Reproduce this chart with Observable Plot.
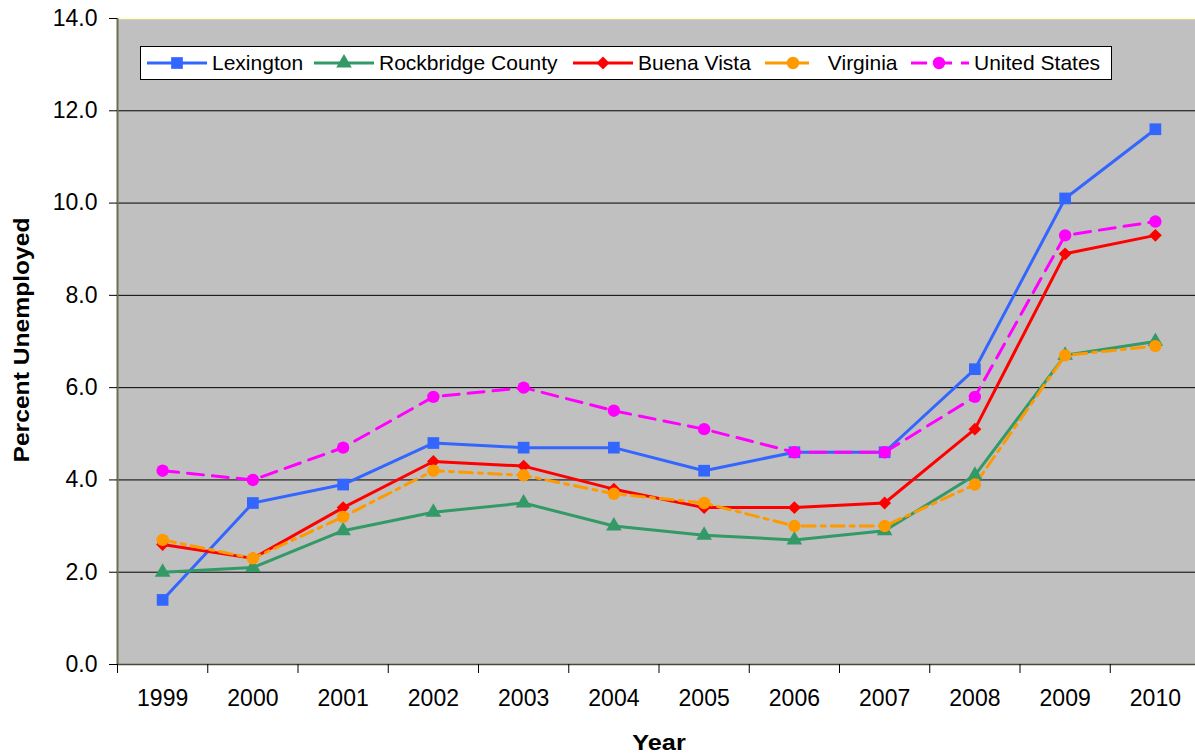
<!DOCTYPE html>
<html>
<head>
<meta charset="utf-8">
<script src="https://cdn.jsdelivr.net/npm/d3@7"></script>
<script src="https://cdn.jsdelivr.net/npm/@observablehq/plot@0.6"></script>
<style>
  html, body { margin: 0; padding: 0; background: #ffffff; }
  #wrap { position: relative; width: 1195px; height: 755px; overflow: hidden; font-family: Arial, "Liberation Sans", sans-serif; }
  #chart svg { position: absolute; left: 0; top: 0; }
  .ytitle { position: absolute; left: 22px; top: 340px; transform: translate(-50%, -50%) rotate(-90deg) scale(1.12, 1); font-weight: bold; font-size: 22px; white-space: nowrap; color: #000; }
  .xtitle { position: absolute; left: 659px; top: 743px; transform: translate(-50%, -50%) scale(1.15, 1); font-weight: bold; font-size: 22px; color: #000; }
  #legend { position: absolute; left: 140px; top: 46px; width: 970px; height: 32px; background: #fff; border: 1px solid #000; }
  .li { position: absolute; top: 0; height: 32px; }
  .li svg { position: absolute; top: 0; }
  .li span { position: absolute; top: 4px; font-size: 21px; white-space: pre; color: #000; }
</style>
</head>
<body>
<div id="wrap">
  <div id="chart"></div>
  <div class="ytitle">Percent Unemployed</div>
  <div class="xtitle">Year</div>
  <div id="legend"></div>
</div>
<script>
const years = [1999, 2000, 2001, 2002, 2003, 2004, 2005, 2006, 2007, 2008, 2009, 2010];
const lexington   = [1.4, 3.5, 3.9, 4.8, 4.7, 4.7, 4.2, 4.6, 4.6, 6.4, 10.1, 11.6];
const rockbridge  = [2.0, 2.1, 2.9, 3.3, 3.5, 3.0, 2.8, 2.7, 2.9, 4.1, 6.7, 7.0];
const buenaVista  = [2.6, 2.3, 3.4, 4.4, 4.3, 3.8, 3.4, 3.4, 3.5, 5.1, 8.9, 9.3];
const virginia    = [2.7, 2.3, 3.2, 4.2, 4.1, 3.7, 3.5, 3.0, 3.0, 3.9, 6.7, 6.9];
const unitedStates= [4.2, 4.0, 4.7, 5.8, 6.0, 5.5, 5.1, 4.6, 4.6, 5.8, 9.3, 9.6];
const seriesNames = ["Lexington", "Rockbridge County", "Buena Vista", "Virginia", "United States"];
const yTicks = [0, 2, 4, 6, 8, 10, 12, 14];

const seriesValues = [lexington, rockbridge, buenaVista, virginia, unitedStates];
const styles = [
  {color: "#3366ff", symbol: "square",   r: 6.6, dash: null},
  {color: "#339966", symbol: "triangle", r: 5.8, dash: null},
  {color: "#ff0000", symbol: "diamond2", r: 5.8, dash: null},
  {color: "#ff9900", symbol: "circle",   r: 6.2, dash: "13,6,4,6"},
  {color: "#ff00ff", symbol: "circle",   r: 6.2, dash: "16,9"}
];

const boundaries = years.map(y => y - 0.5).concat([years[years.length - 1] + 0.5]);

const marks = [
  Plot.frame({fill: "#c0c0c0"}),
  Plot.ruleY(yTicks.filter(t => t > 0 && t < 14), {stroke: "#000", strokeWidth: 1}),
  Plot.ruleY([14], {stroke: "#ffffc0", strokeWidth: 1.5}),
  Plot.ruleX([boundaries[0]], {stroke: "#6e6e50", strokeWidth: 2}),
  Plot.ruleY([0], {stroke: "#4a4a3a", strokeWidth: 1.5}),
  Plot.axisY({ticks: yTicks, tickFormat: d3.format(".1f"), tickSize: 8, tickPadding: 12, fontSize: 23, label: null, stroke: "#000"}),
  Plot.axisX({ticks: boundaries, tickSize: 9, tickFormat: () => "", label: null}),
  Plot.axisX({ticks: years, tickSize: 0, tickPadding: 25, tickFormat: d => String(d), fontSize: 23, label: null})
];

seriesValues.forEach((vals, i) => {
  const data = years.map((yr, j) => ({year: yr, value: vals[j]}));
  const s = styles[i];
  marks.push(Plot.line(data, {x: "year", y: "value", stroke: s.color, strokeWidth: 3, strokeDasharray: s.dash, strokeLinejoin: "round"}));
  marks.push(Plot.dot(data, {x: "year", y: "value", symbol: () => s.symbol, fill: s.color, r: s.r, stroke: "none"}));
});

const chart = Plot.plot({
  width: 1195,
  height: 755,
  marginLeft: 117,
  marginRight: 0,
  marginTop: 18,
  marginBottom: 91,
  style: {fontFamily: "Arial, 'Liberation Sans', sans-serif", fontSize: "23px", color: "#000", background: "transparent"},
  x: {domain: [boundaries[0], boundaries[boundaries.length - 1]], range: [117, 1200]},
  y: {domain: [0, 14], range: [664, 18]},
  symbol: {type: "identity"},
  marks
});
document.getElementById("chart").appendChild(chart);

// Legend
const legendPos = [
  {line: [6, 66], marker: 36, text: 71},
  {line: [173, 233], marker: 203, text: 238},
  {line: [432, 492], marker: 462, text: 497},
  {line: [624, 669], marker: 652, text: 681},
  {line: [770, 828], marker: 798, text: 833}
];
const legend = document.getElementById("legend");
const ns = "http://www.w3.org/2000/svg";
seriesNames.forEach((name, i) => {
  const s = styles[i];
  const p = legendPos[i];
  const item = document.createElement("div");
  item.className = "li";
  item.style.left = "0px";
  const svg = document.createElementNS(ns, "svg");
  svg.setAttribute("width", 970);
  svg.setAttribute("height", 32);
  const ln = document.createElementNS(ns, "line");
  ln.setAttribute("x1", p.line[0]); ln.setAttribute("x2", p.line[1]);
  ln.setAttribute("y1", 16); ln.setAttribute("y2", 16);
  ln.setAttribute("stroke", s.color); ln.setAttribute("stroke-width", 3);
  if (s.dash) ln.setAttribute("stroke-dasharray", i === 3 ? "28,6,10" : "16,9");
  svg.appendChild(ln);
  const sym = {square: d3.symbolSquare, triangle: d3.symbolTriangle, diamond2: d3.symbolDiamond2, circle: d3.symbolCircle}[s.symbol];
  const path = document.createElementNS(ns, "path");
  path.setAttribute("d", d3.symbol(sym, Math.PI * s.r * s.r)());
  path.setAttribute("transform", `translate(${p.marker},16)`);
  path.setAttribute("fill", s.color);
  svg.appendChild(path);
  item.appendChild(svg);
  const span = document.createElement("span");
  span.style.left = p.text + "px";
  span.textContent = i === 3 ? " " + name : name;
  item.appendChild(span);
  legend.appendChild(item);
});
</script>
</body>
</html>
